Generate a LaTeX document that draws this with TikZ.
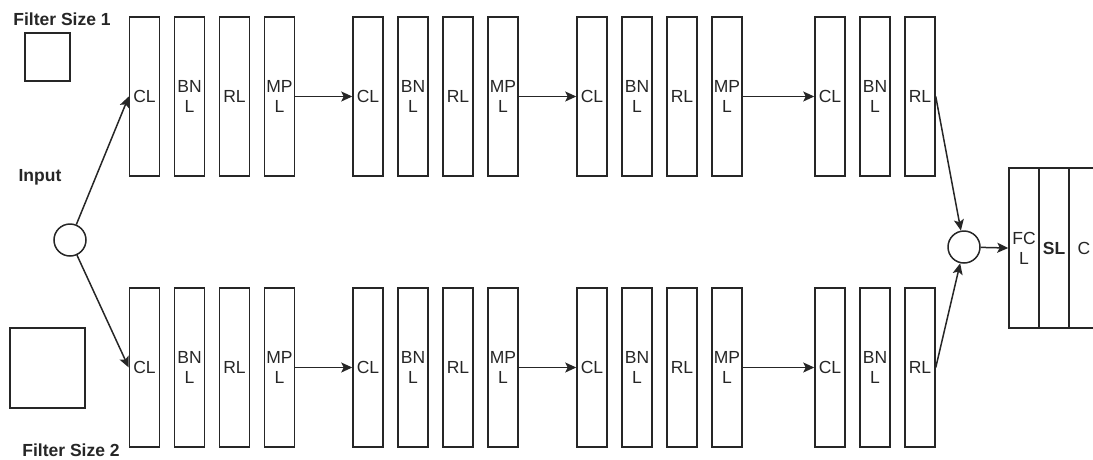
\documentclass[tikz,border=0pt]{standalone}
\usepackage{fontspec}
\setmainfont{Liberation Sans}
\usetikzlibrary{arrows.meta}

\begin{document}
\begin{tikzpicture}[x=1pt,y=-1pt,line width=1.5pt,color=black!85,
    layer/.style={draw,minimum width=30,minimum height=159,inner sep=0pt,align=center,font=\fontsize{17.5}{20}\selectfont},
    lbl/.style={font=\bfseries\fontsize{17.5}{20}\selectfont},
    joint/.style={draw,circle,minimum size=32,inner sep=0pt},
    >={Stealth[length=11pt,width=10pt,inset=2.5pt]}]
    \useasboundingbox (0,0) rectangle (1093,459);
    \node[lbl] (fs1) at (62,19) {Filter Size 1};
    \node[draw,minimum width=45,minimum height=48] (sq1) at (47.5,57) {};
    \node[lbl] (inp) at (40,177) {Input};
    \node[draw,minimum width=75,minimum height=80] (sq2) at (47.5,368) {};
    \node[lbl] (fs2) at (71,450) {Filter Size 2};
    \node[joint] (in) at (70,240) {};
    \foreach \grp/\gx in {1/144.5,2/368,3/592,4/830}{
        \foreach \row/\ry in {t/96.5,b/367.5}{
            \node[layer] (\row cl\grp) at (\gx,\ry) {CL};
            \node[layer] (\row bn\grp) at (\gx+45,\ry) {BN\\L};
            \node[layer] (\row rl\grp) at (\gx+90,\ry) {RL};
        }
    }
    \foreach \grp/\gx in {1/144.5,2/368,3/592}{
        \node[layer] (tmp\grp) at (\gx+135,96.5) {MP\\L};
        \node[layer] (bmp\grp) at (\gx+135,367.5) {MP\\L};
    }
    \node[joint] (mg) at (964,247) {};
    \node[layer,minimum height=160] (fcl) at (1024,248) {FC\\L};
    \node[layer,minimum height=160] (sl) at (1054,248) {\bfseries SL};
    \node[layer,minimum height=160] (cc) at (1084,248) {C};
    \draw[->] (in) -- (tcl1.west);
    \draw[->] (in) -- (bcl1.west);
    \foreach \grp/\nxt in {1/2,2/3,3/4}{
        \draw[->] (tmp\grp.east) -- (tcl\nxt.west);
        \draw[->] (bmp\grp.east) -- (bcl\nxt.west);
    }
    \draw[->] (trl4.east) -- (mg);
    \draw[->] (brl4.east) -- (mg);
    \draw[->] (mg) -- (fcl.west);
\end{tikzpicture}
\end{document}
